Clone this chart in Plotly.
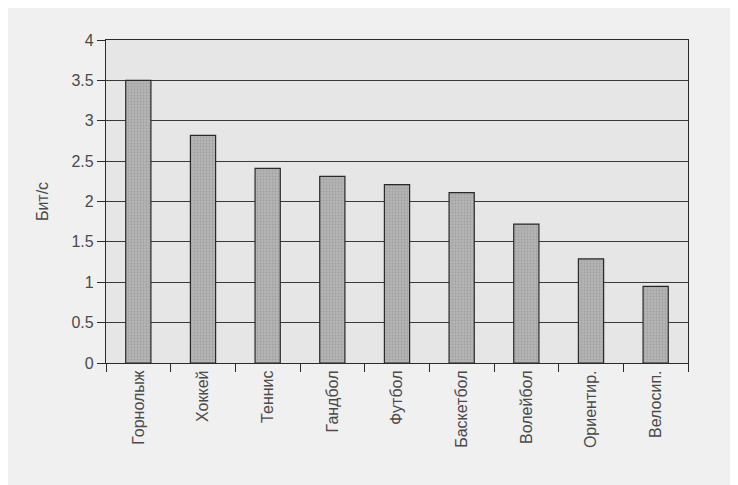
import plotly.graph_objects as go

categories = ["Горнолыж", "Хоккей", "Теннис", "Гандбол", "Футбол",
              "Баскетбол", "Волейбол", "Ориентир.", "Велосип."]
values = [3.5, 2.82, 2.41, 2.31, 2.21, 2.11, 1.72, 1.29, 0.95]
y_ticks = [0, 0.5, 1, 1.5, 2, 2.5, 3, 3.5, 4]
y_tick_labels = ["0", "0.5", "1", "1.5", "2", "2.5", "3", "3.5", "4"]
y_title = "Бит/с"

fig = go.Figure(go.Bar(
    x=categories, y=values, width=0.39,
    marker=dict(color="#a9a9a9", line=dict(color="#2a2a2a", width=1.2),
                pattern=dict(shape=".", fgcolor="#8c8c8c", bgcolor="#b4b4b4",
                             size=3, solidity=0.3)),
))

font_family = "Liberation Sans, Arial, sans-serif"
# page body adds an 8px offset; figure sized to fill the rest of the window
fig.update_layout(
    width=730, height=477,
    margin=dict(l=98, r=50, t=32, b=122),
    paper_bgcolor="#f0f0f0", plot_bgcolor="#e6e6e6",
    showlegend=False, bargap=0.6,
    font=dict(family=font_family, size=16, color="#4a4a4a"),
)
fig.update_yaxes(
    range=[0, 4], tickvals=y_ticks, ticktext=y_tick_labels,
    showgrid=True, gridcolor="#3a3a3a", gridwidth=1,
    showline=True, linecolor="#2a2a2a", linewidth=1.2, mirror=True,
    ticks="outside", ticklen=8, tickcolor="#2a2a2a",
    zeroline=False, automargin=False,
    title=dict(text=y_title, font=dict(size=16, color="#4a4a4a"), standoff=18),
    tickfont=dict(size=16, color="#4a4a4a"),
)
fig.update_xaxes(
    tickangle=-90, tickson="boundaries", ticks="outside", ticklen=8,
    tickcolor="#2a2a2a", showline=True, linecolor="#2a2a2a", linewidth=1.2,
    mirror=True, showgrid=False, automargin=False,
    tickfont=dict(size=16, color="#4a4a4a"),
)

fig.write_html("out.html")
